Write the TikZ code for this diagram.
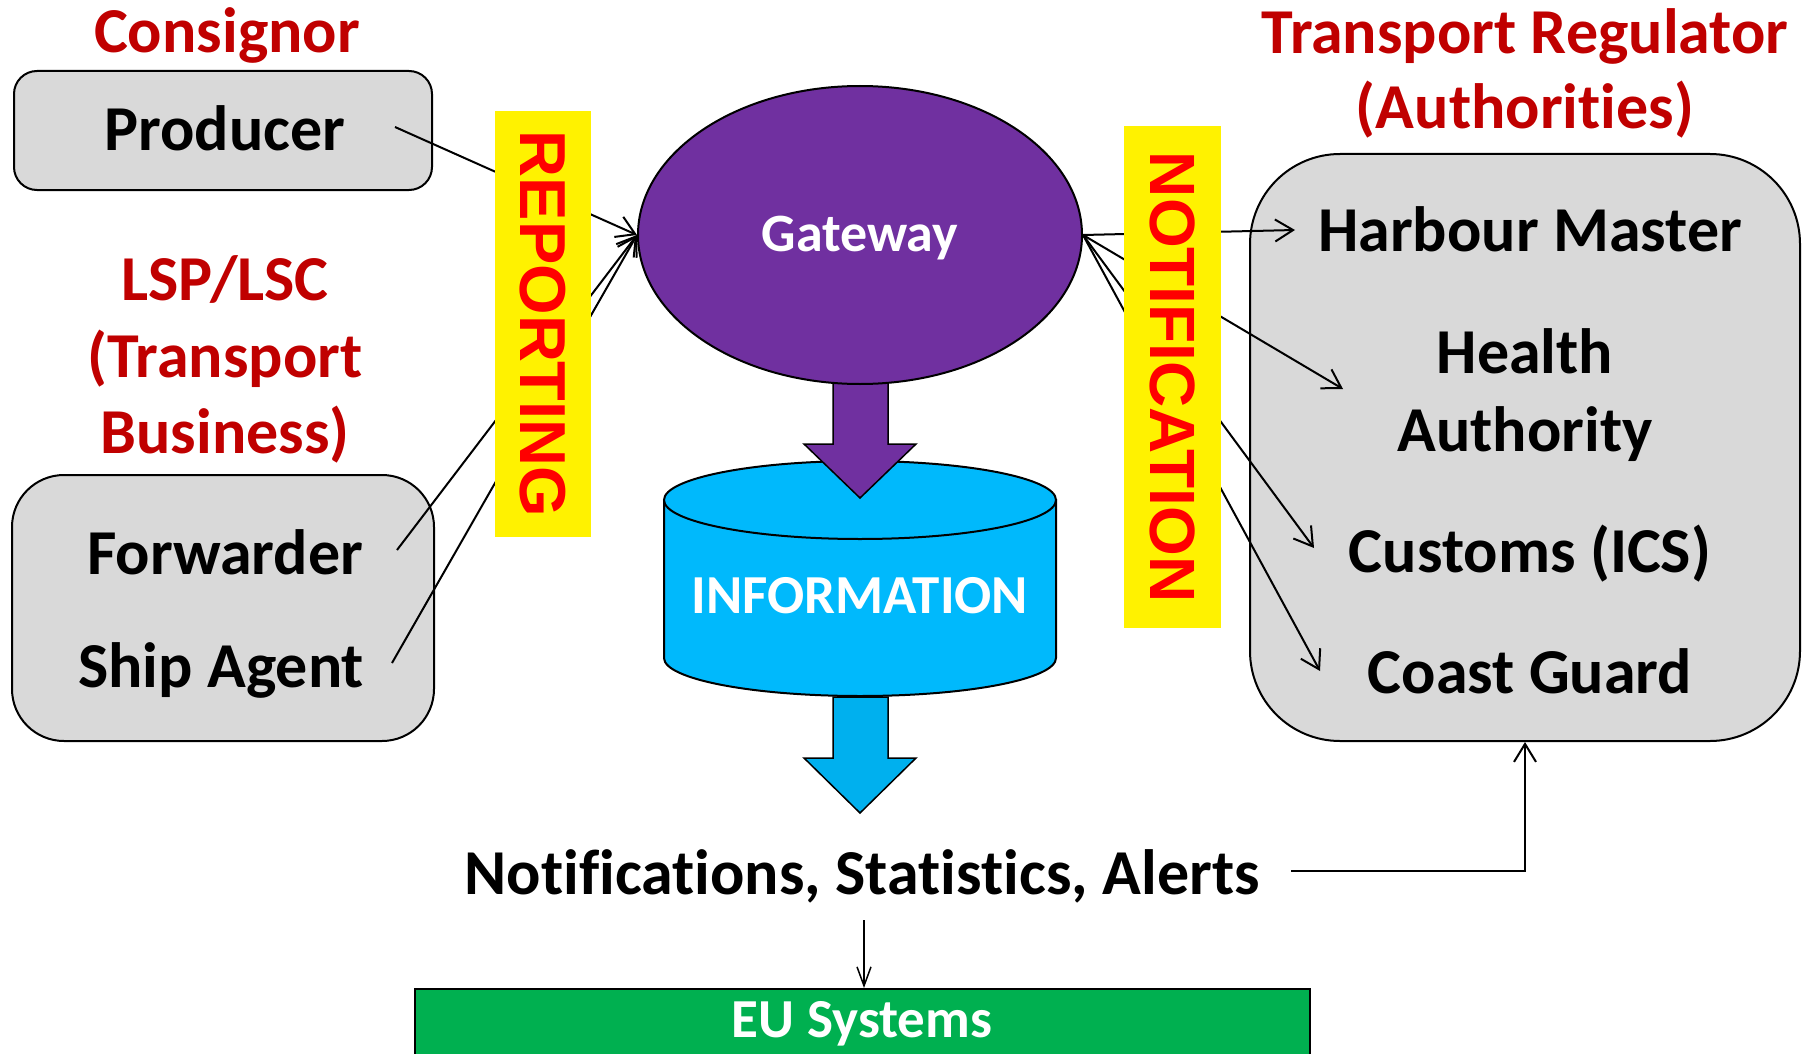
\documentclass[tikz,border=0pt]{standalone}
\usepackage{fontspec}
\setmainfont{Carlito}[Ligatures=CommonOff]
\newfontfamily\arialfont{Liberation Sans}
\usetikzlibrary{arrows.meta,shapes.geometric}
\definecolor{darkred}{HTML}{C00000}
\definecolor{gwpurple}{HTML}{7030A0}
\definecolor{infoblue}{HTML}{00B9FC}
\definecolor{arrowblue}{HTML}{00B0EE}
\definecolor{eugreen}{HTML}{00B050}
\definecolor{boxgray}{HTML}{D9D9D9}
\begin{document}
\begin{tikzpicture}[x=1pt,y=-1pt,
  txt/.style={font=\fontsize{64}{77}\selectfont\bfseries, inner sep=0, anchor=base},
  redtxt/.style={txt, text=darkred},
  wtxt/.style={font=\fontsize{55}{66}\selectfont\bfseries, text=white, inner sep=0, anchor=base},
  graybox/.style={draw=black, line width=2, fill=boxgray, inner sep=0},
  conn/.style={line width=2, -{Straight Barb[length=18pt,width=22pt]}},
  thinconn/.style={line width=1.5, -{Straight Barb[length=19pt,width=14pt]}},
  band/.style={fill=yellow, inner sep=0, rotate=-90, text=red},
  blockarrow/.style={draw=black, line width=1.5, line join=miter}
]
\useasboundingbox (0,0) rectangle (1807,1054);
\clip (0,0) rectangle (1807,1054);

% gray boxes
\node[graybox, rounded corners=23, minimum width=418, minimum height=119] (prodbox) at (223,130.5) {};
\node[graybox, rounded corners=52, minimum width=422, minimum height=266] (lspbox) at (223,608) {};
\node[graybox, rounded corners=90, minimum width=550, minimum height=587] (auth) at (1525,447.5) {};

% left texts
\node[redtxt] (consignor) at (227,53) {Consignor};
\node[txt] (producer) at (225,150) {Producer};
\node[redtxt] (lsp1) at (225,300) {LSP/LSC};
\node[redtxt] (lsp2) at (225,377) {(Transport};
\node[redtxt] (lsp3) at (225,453) {Business)};
\node[txt] (forwarder) at (225,574) {Forwarder};
\node[txt] (shipagent) at (221,687) {Ship Agent};

% right texts
\node[redtxt] (tr1) at (1525,54) {Transport Regulator};
\node[redtxt] (tr2) at (1525,129) {(Authorities)};
\node[txt] (harbour) at (1530,251) {Harbour Master};
\node[txt] (health1) at (1525,373) {Health};
\node[txt] (health2) at (1525,451) {Authority};
\node[txt] (customs) at (1530,572) {Customs (ICS)};
\node[txt] (coast) at (1530,693) {Coast Guard};

% cylinder
\path[draw=black, line width=2, fill=infoblue] (664,500) -- (664,658)
  arc[start angle=180, end angle=0, x radius=196, y radius=38] -- (1056,500) -- cycle;
\draw[line width=2, fill=infoblue] (860,500) ellipse[x radius=196, y radius=39];
\node[wtxt] (info) at (860,613) {INFORMATION};

% block arrows
\path[blockarrow, fill=gwpurple] (833,375) -- (833,444) -- (804,444) -- (860,498) -- (916,444) -- (888,444) -- (888,375) -- cycle;
\path[blockarrow, fill=arrowblue] (833,697) -- (833,758) -- (804,758) -- (860,813) -- (916,758) -- (888,758) -- (888,697) -- cycle;

% gateway
\node[ellipse, draw=black, line width=2, fill=gwpurple, minimum width=444, minimum height=298, inner sep=0] (gw) at (860,235) {};
\node[wtxt, font=\fontsize{54}{64}\selectfont\bfseries] (gwtext) at (860,251) {Gateway};

% connector endpoints
\coordinate (pS) at (395,127);
\coordinate (fS) at (397,550);
\coordinate (sS) at (392,663);
\coordinate (hmE) at (1295,230);
\coordinate (heE) at (1343,389);
\coordinate (cuE) at (1314,548);
\coordinate (coE) at (1320,671);

\draw[conn] (pS) -- (gw.west);
\draw[conn] (fS) -- (gw.west);
\draw[conn] (sS) -- (gw.west);
\draw[conn] (gw.east) -- (hmE);
\draw[conn] (gw.east) -- (heE);
\draw[conn] (gw.east) -- (cuE);
\draw[conn] (gw.east) -- (coE);

% bands
\node[band, minimum width=426, minimum height=96, font=\arialfont\bfseries\fontsize{65}{75}\selectfont] (rep) at (543,324) {REPORTING};
\node[band, minimum width=502, minimum height=97, font=\arialfont\bfseries\fontsize{64}{74}\selectfont] (notif) at (1172.5,377) {NOTIFICATION};

% bottom
\node[txt] (nsa) at (862,894) {Notifications, Statistics, Alerts};
\node[draw=black, line width=2, fill=eugreen, minimum width=895, minimum height=100, inner sep=0, anchor=north] (eu) at (862.5,988) {};
\node[wtxt] (eutext) at (862,1037) {EU Systems};

\coordinate (nR) at (1291,871);
\coordinate (nB) at (864,920);
\draw[conn] (nR) -| (auth.south);
\draw[thinconn] (nB) -- (nB |- eu.north);
\end{tikzpicture}
\end{document}
